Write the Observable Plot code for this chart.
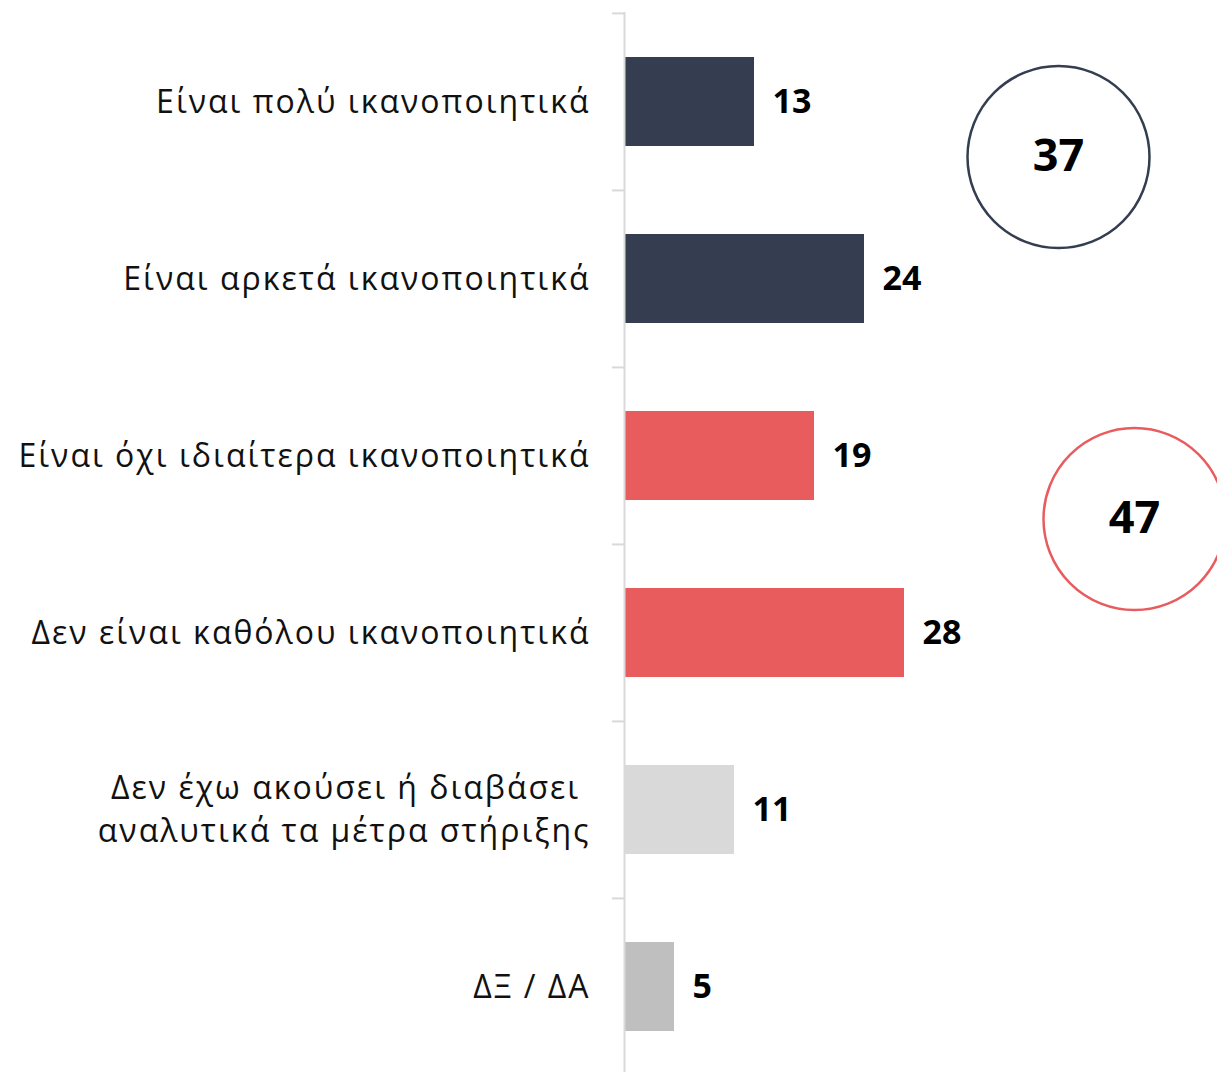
<!DOCTYPE html>
<html>
<head>
<meta charset="utf-8">
<script src="https://cdn.jsdelivr.net/npm/d3@7"></script>
<script src="https://cdn.jsdelivr.net/npm/@observablehq/plot@0.6"></script>
<style>
  html, body { margin: 0; padding: 0; background: #fff; }
  svg { display: block; }
</style>
</head>
<body>
<div id="chart"></div>
<script>
const categories = [
  "Είναι πολύ ικανοποιητικά",
  "Είναι αρκετά ικανοποιητικά",
  "Είναι όχι ιδιαίτερα ικανοποιητικά",
  "Δεν είναι καθόλου ικανοποιητικά",
  "Δεν έχω ακούσει ή διαβάσει\u00a0\nαναλυτικά τα μέτρα στήριξης",
  "ΔΞ / ΔΑ"
];
const values = [13, 24, 19, 28, 11, 5];
const groups = ["positive", "positive", "negative", "negative", "unaware", "dkna"];
const groupTotals = [37, 47];

const colorMap = {positive: "#343e50", negative: "#e85c5e", unaware: "#d9d9d9", dkna: "#bfbfbf"};
const data = categories.map((c, i) => ({category: c, value: values[i], group: groups[i]}));

const W = 1217, H = 1072, ML = 624, MT = 12, MB = -3;
const step = (H - MT - MB) / 6;

const circles = [
  {total: groupTotals[0], category: categories[0], stroke: colorMap.positive},
  {total: groupTotals[1], category: categories[2], stroke: colorMap.negative}
];

const font = "'Open Sans', Lato, sans-serif";

const plot = Plot.plot({
  width: W,
  height: H,
  marginLeft: ML,
  marginTop: MT,
  marginBottom: MB,
  marginRight: 0,
  style: {fontFamily: font, background: "#fff", overflow: "visible"},
  x: {domain: [0, (W - ML) / 10], axis: null},
  y: {domain: categories, axis: null, paddingInner: 0.5, paddingOuter: 0.25},
  marks: [
    Plot.barX(data, {y: "category", x: "value", fill: d => colorMap[d.group]}),
    Plot.ruleX([0], {stroke: "#d9d9d9", strokeWidth: 2}),
    Plot.ruleY(categories, {y: d => d, x1: -1.2, x2: 0, dy: -step / 2, stroke: "#d9d9d9", strokeWidth: 2}),
    Plot.text(data, {
      y: "category", x: 0, text: "category", textAnchor: "end", dx: -34, dy: -3,
      fontSize: 32, fill: "#111", lineHeight: 1.35
    }),
    Plot.text(data, {
      y: "category", x: "value", text: d => String(d.value), textAnchor: "start", dx: 18, dy: 0,
      fontSize: 34, fontWeight: "bold", fill: "#000"
    }),
    Plot.dot(circles.slice(0, 1), {x: () => 43.4, y: "category", dy: 55, r: 91, stroke: "stroke", strokeWidth: 2.5, fill: "none"}),
    Plot.dot(circles.slice(1), {x: () => 51.0, y: "category", dy: 63, r: 91, stroke: "stroke", strokeWidth: 2.5, fill: "none"}),
    Plot.text(circles.slice(0, 1), {x: () => 43.4, y: "category", dy: 55, text: d => String(d.total), fontSize: 45, fontWeight: "bold", fill: "#000"}),
    Plot.text(circles.slice(1), {x: () => 51.0, y: "category", dy: 63, text: d => String(d.total), fontSize: 45, fontWeight: "bold", fill: "#000"})
  ]
});
// widen category labels to approximate the wide geometric typeface of the original
const textGroups = plot.querySelectorAll('g[aria-label="text"]');
if (textGroups.length) textGroups[0].setAttribute("letter-spacing", "2");
document.getElementById("chart").appendChild(plot);
</script>
</body>
</html>
